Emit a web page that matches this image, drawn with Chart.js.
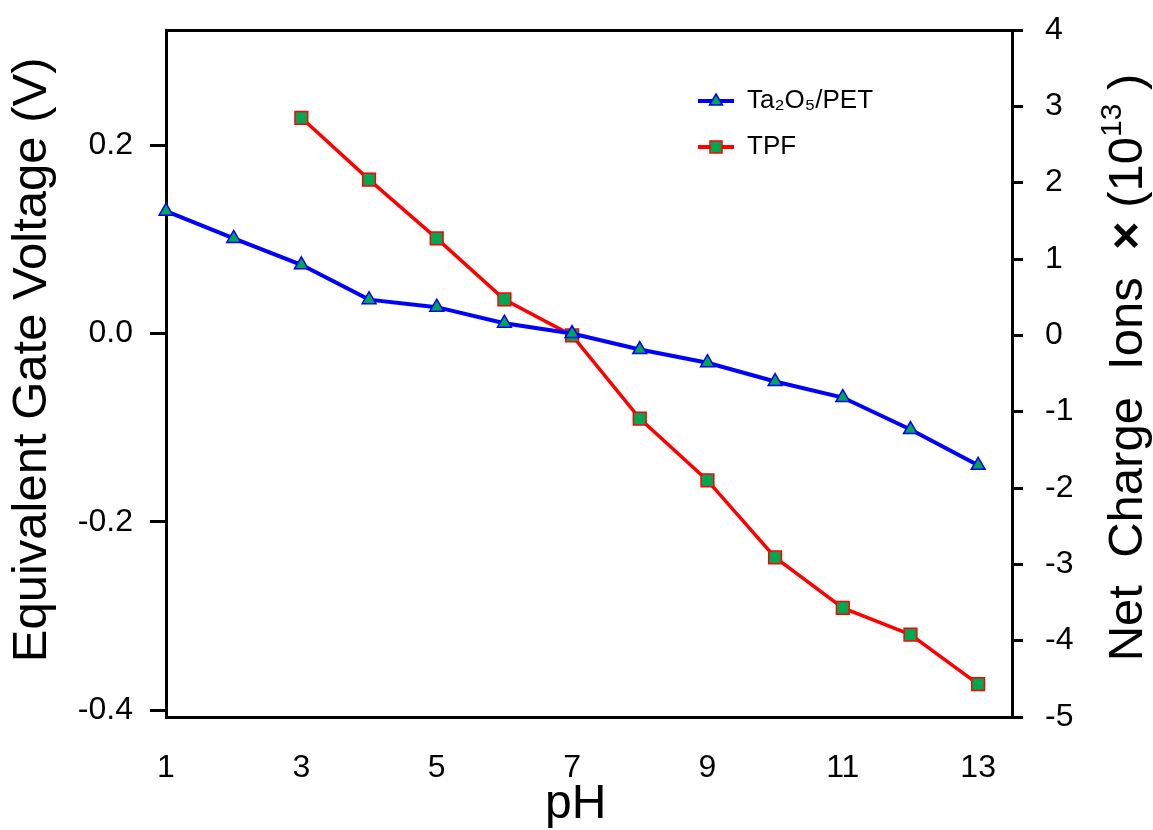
<!DOCTYPE html>
<html>
<head>
<meta charset="utf-8">
<script src="https://cdn.jsdelivr.net/npm/chart.js@4.4.0/dist/chart.umd.min.js"></script>
<style>
  body { margin: 0; background: #fff; }
</style>
</head>
<body>
<canvas id="phChart" width="1153" height="830"></canvas>
<script>
// values
var phValues = [1, 2, 3, 4, 5, 6, 7, 8, 9, 10, 11, 12, 13];
var ta2o5Voltage = [0.130, 0.101, 0.073, 0.036, 0.028, 0.011, 0.000, -0.017, -0.031, -0.051, -0.068, -0.102, -0.140];
var tpfPh = [3, 4, 5, 6, 7, 8, 9, 10, 11, 12, 13];
var tpfCharge = [2.85, 2.04, 1.27, 0.47, 0.00, -1.09, -1.90, -2.91, -3.57, -3.92, -4.57];
var xTickValues = [1, 3, 5, 7, 9, 11, 13];
var leftTickValues = [-0.4, -0.2, 0, 0.2];
var rightTickValues = [-5, -4, -3, -2, -1, 0, 1, 2, 3, 4];

var FONT = "'Liberation Sans', Arial, sans-serif";
var GREEN = '#00a650';

function toPoints(xs, ys) {
  return xs.map(function (x, i) { return {x: x, y: ys[i]}; });
}

function legendIcon(lineColor, shape) {
  var c = document.createElement('canvas');
  c.width = 36; c.height = 20;
  var g = c.getContext('2d');
  g.strokeStyle = lineColor;
  g.lineWidth = 4;
  g.beginPath(); g.moveTo(0, 10); g.lineTo(36, 10); g.stroke();
  g.fillStyle = GREEN;
  g.lineWidth = 1.5;
  g.beginPath();
  if (shape === 'triangle') {
    g.moveTo(18, 3); g.lineTo(24.5, 14); g.lineTo(11.5, 14); g.closePath();
  } else {
    g.rect(12, 4, 12, 12);
  }
  g.fill(); g.stroke();
  return c;
}

var legendIcons = [legendIcon('#0000ff', 'triangle'), legendIcon('#ff0000', 'rect')];

// put the legend box where the figure has it
var legendPlacer = {
  id: 'legendPlacer',
  afterLayout: function (chart) {
    var lg = chart.legend;
    lg.left = 678; lg.top = 68;
    lg.right = lg.left + 260; lg.bottom = lg.top + 130;
    lg.width = 260; lg.height = 130;
  }
};

// right axis title reads bottom-to-top in the figure
var rightTitle = {
  id: 'rightTitle',
  afterDraw: function (chart) {
    var ctx = chart.ctx, area = chart.chartArea;
    var parts = [
      {t: 'Net  Charge  Ions  ', f: '49px ' + FONT, dy: 0},
      {t: '\u00d7', f: 'bold 49px ' + FONT, dy: 0},
      {t: ' (10', f: '49px ' + FONT, dy: 0},
      {t: '13', f: '30px ' + FONT, dy: -15},
      {t: ' )', f: '49px ' + FONT, dy: 0}
    ];
    ctx.save();
    var total = 0;
    parts.forEach(function (p) { ctx.font = p.f; p.w = ctx.measureText(p.t).width; total += p.w; });
    ctx.translate(1128, (area.top + area.bottom) / 2 - 6);
    ctx.rotate(-Math.PI / 2);
    ctx.fillStyle = '#000';
    ctx.textBaseline = 'middle';
    ctx.textAlign = 'left';
    var x = -total / 2;
    parts.forEach(function (p) { ctx.font = p.f; ctx.fillText(p.t, x, p.dy); x += p.w; });
    ctx.restore();
  }
};

function fixTicks(values) {
  return function (scale) { scale.ticks = values.map(function (v) { return {value: v}; }); };
}

function fitTo(prop, size) {
  return function (s) {
    s[prop] = size;
    s.paddingTop = 0; s.paddingBottom = 0; s.paddingLeft = 0; s.paddingRight = 0;
  };
}

new Chart(document.getElementById('phChart').getContext('2d'), {
  type: 'line',
  data: {
    datasets: [{
      label: 'Ta\u2082O\u2085/PET',
      data: toPoints(phValues, ta2o5Voltage),
      yAxisID: 'y',
      borderColor: '#0000ff',
      borderWidth: 4,
      pointStyle: 'triangle',
      pointRadius: 8,
      pointBackgroundColor: GREEN,
      pointBorderColor: '#0000ff',
      pointBorderWidth: 1.5,
      clip: false
    }, {
      label: 'TPF',
      data: toPoints(tpfPh, tpfCharge),
      yAxisID: 'y2',
      borderColor: '#ff0000',
      borderWidth: 3.5,
      pointStyle: 'rect',
      pointRadius: 9,
      pointBackgroundColor: GREEN,
      pointBorderColor: '#ff0000',
      pointBorderWidth: 1.5,
      clip: false
    }]
  },
  options: {
    responsive: false,
    animation: false,
    layout: {padding: 0},
    plugins: {
      tooltip: {enabled: false},
      legend: {
        position: 'chartArea',
        align: 'start',
        labels: {
          usePointStyle: true,
          pointStyleWidth: 36,
          padding: 20,
          color: '#000',
          font: {family: FONT, size: 26},
          generateLabels: function (chart) {
            var items = Chart.defaults.plugins.legend.labels.generateLabels(chart);
            items.forEach(function (it, i) { it.pointStyle = legendIcons[i]; });
            return items;
          }
        }
      }
    },
    scales: {
      x: {
        type: 'linear',
        position: 'bottom',
        min: 1,
        max: 13.5,
        afterBuildTicks: fixTicks(xTickValues),
        afterFit: fitTo('height', 113),
        grid: {display: false, drawTicks: false},
        border: {display: true, color: '#000', width: 3},
        ticks: {color: '#000', padding: 32, autoSkip: false, maxRotation: 0, font: {family: FONT, size: 32}},
        title: {display: true, text: 'pH  ', color: '#000', padding: {top: 0, bottom: 1}, font: {family: FONT, size: 48, lineHeight: 1}}
      },
      xTop: {
        type: 'linear',
        position: 'top',
        min: 1,
        max: 13.5,
        afterFit: fitTo('height', 30),
        grid: {display: false, drawTicks: false},
        border: {display: true, color: '#000', width: 3},
        ticks: {display: false}
      },
      y: {
        type: 'linear',
        position: 'left',
        min: -0.4073,
        max: 0.3224,
        afterBuildTicks: fixTicks(leftTickValues),
        afterFit: fitTo('width', 166),
        grid: {display: true, drawOnChartArea: false, drawTicks: true, tickLength: 16, lineWidth: 3, color: '#000'},
        border: {display: true, color: '#000', width: 3},
        ticks: {
          color: '#000', padding: 17, font: {family: FONT, size: 32},
          callback: function (v) { return v.toFixed(1); }
        },
        title: {display: true, text: '  Equivalent Gate Voltage (V)', color: '#000', padding: {top: 3, bottom: 0}, font: {family: FONT, size: 49}}
      },
      y2: {
        type: 'linear',
        position: 'right',
        min: -5,
        max: 4,
        afterBuildTicks: fixTicks(rightTickValues),
        afterFit: fitTo('width', 141),
        grid: {display: true, drawOnChartArea: false, drawTicks: true, tickLength: 11, lineWidth: 3, color: '#000'},
        border: {display: true, color: '#000', width: 3},
        ticks: {color: '#000', padding: 22, font: {family: FONT, size: 32}}
      }
    }
  },
  plugins: [legendPlacer, rightTitle]
});
</script>
</body>
</html>
